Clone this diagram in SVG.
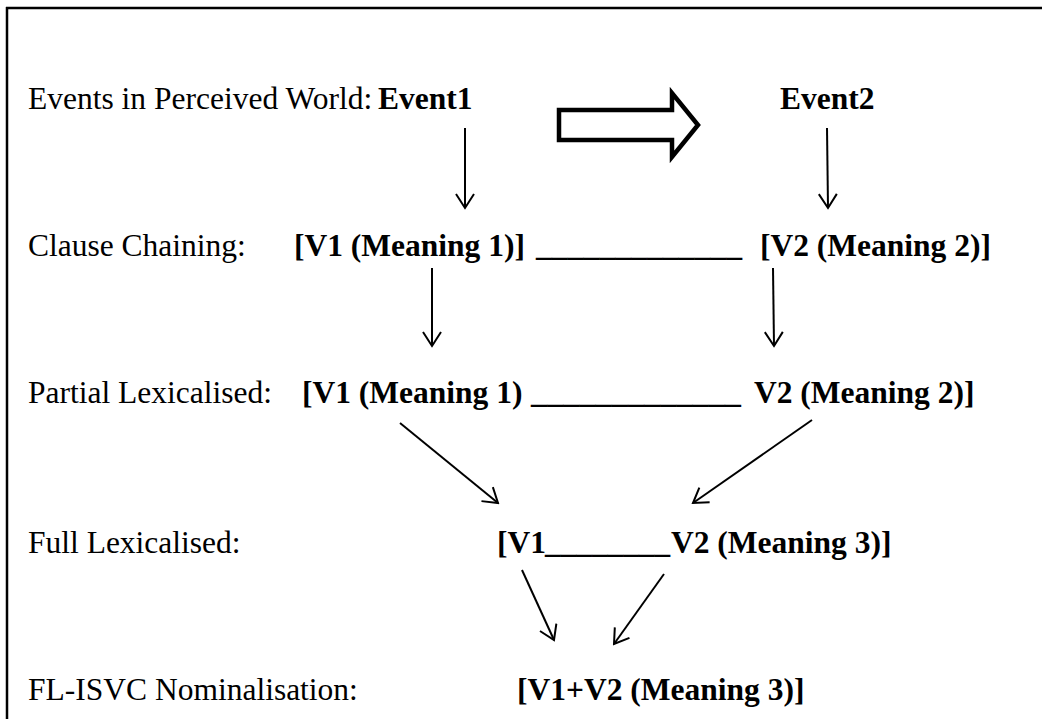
<svg xmlns="http://www.w3.org/2000/svg" width="1042" height="719" viewBox="0 0 1042 719">
<style>
text{font-family:"Liberation Serif","Times New Roman",serif;font-size:31.5px;fill:#000}
.b{font-weight:bold}
.c{stroke:#000;stroke-width:2;fill:none}
</style>
<defs>
<marker id="ah" viewBox="0 0 20 20" refX="18" refY="10" markerWidth="20" markerHeight="20" markerUnits="userSpaceOnUse" orient="auto">
<path d="M4,1 L18,10 L4,19" fill="none" stroke="#000" stroke-width="2"/>
</marker>
</defs>
<rect width="1042" height="719" fill="#fff"/>
<g id="frame" stroke="#000" stroke-width="2.5" fill="none">
<line x1="6" y1="8" x2="1042" y2="8"/>
<line x1="7" y1="7" x2="7" y2="719"/>
</g>
<g id="row1">
<text x="28" y="109">Events in Perceived World:</text>
<text id="event1" class="b" x="378" y="109">Event1</text>
<text id="event2" class="b" x="780" y="109">Event2</text>
</g>
<g id="row2">
<text x="28" y="256">Clause Chaining:</text>
<text class="b" x="294" y="256">[V1 (Meaning 1)]</text>
<text class="b" x="536" y="256" textLength="206" lengthAdjust="spacingAndGlyphs">_____________</text>
<text class="b" x="760" y="256">[V2 (Meaning 2)]</text>
</g>
<g id="row3">
<text x="28" y="403">Partial Lexicalised:</text>
<text class="b" x="302" y="403">[V1 (Meaning 1)</text>
<text class="b" x="531" y="403" textLength="210" lengthAdjust="spacingAndGlyphs">_____________</text>
<text class="b" x="754" y="403">V2 (Meaning 2)]</text>
</g>
<g id="row4">
<text x="28" y="553">Full Lexicalised:</text>
<text class="b" x="497" y="553">[V1</text>
<text class="b" x="545" y="553" textLength="125" lengthAdjust="spacingAndGlyphs">________</text>
<text class="b" x="671" y="553">V2 (Meaning 3)]</text>
</g>
<g id="row5">
<text x="28" y="700">FL-ISVC Nominalisation:</text>
<text class="b" x="517" y="700">[V1+V2 (Meaning 3)]</text>
</g>
<g id="connectors" class="c">
<path d="M559,110 H672 V93 L698,125 L672,157 V140 H559 Z" stroke-width="4.5" stroke-linejoin="miter"/>
<line x1="465" y1="128" x2="465" y2="208" marker-end="url(#ah)"/>
<line x1="827" y1="128" x2="828" y2="208" marker-end="url(#ah)"/>
<line x1="432" y1="268" x2="432" y2="346" marker-end="url(#ah)"/>
<line x1="773" y1="268" x2="774" y2="346" marker-end="url(#ah)"/>
<line x1="400" y1="423" x2="498" y2="503" marker-end="url(#ah)"/>
<line x1="812" y1="420" x2="693" y2="503" marker-end="url(#ah)"/>
<line x1="522" y1="570" x2="554" y2="640" marker-end="url(#ah)"/>
<line x1="664" y1="574" x2="614" y2="644" marker-end="url(#ah)"/>
</g>
</svg>
